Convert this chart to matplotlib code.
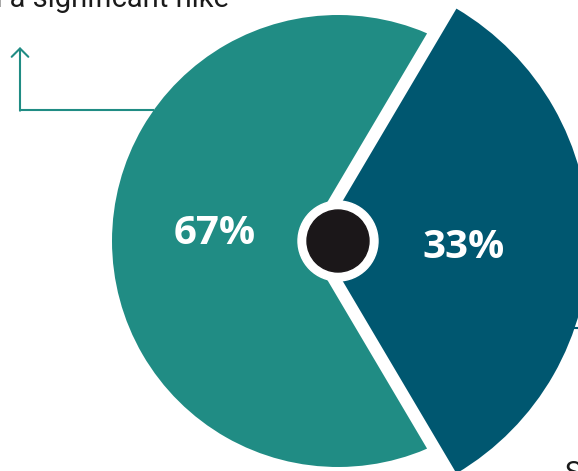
import matplotlib.pyplot as plt
from matplotlib.patches import Circle

# data
shares = [67, 33]
share_labels = [f"{s}%" for s in shares]
colors = ["#208C84", "#005770"]

W, H = 578, 471
cx, cy = 338, 241          # pie centre in pixels (from top-left)
ring_dark = "#1B1719"

plt.rcParams['font.family'] = ['Roboto', 'DejaVu Sans']

fig = plt.figure(figsize=(W / 100, H / 100), dpi=100)
ax = fig.add_axes([0, 0, 1, 1])

start = 360 * shares[1] / 100 / 2   # blue slice centred on the right

# teal slice: thick white edge gives the inset look
teal, _ = ax.pie(shares, colors=colors, startangle=start, radius=255,
                 wedgeprops=dict(edgecolor='white', linewidth=58 * 0.72))
teal[1].set_visible(False)

# blue slice, larger and without edge
blue, _ = ax.pie(shares, colors=colors, startangle=start, radius=270,
                 center=(-19, 0), wedgeprops=dict(linewidth=0))
blue[0].set_visible(False)

ax.set_aspect('equal')
ax.set_xlim(-cx, W - cx)
ax.set_ylim(-(H - cy), cy)
ax.axis('off')

# centre dot
ax.add_patch(Circle((0, 0), 40, color='white', zorder=4))
ax.add_patch(Circle((0, 0), 31, color=ring_dark, zorder=5))

# percentage labels
ax.text(-123.5, -3, share_labels[0], color='white', fontsize=29,
        fontweight='bold', family='Open Sans', ha='center', va='baseline', zorder=6)
ax.text(125.5, -17, share_labels[1], color='white', fontsize=29,
        fontweight='bold', family='Open Sans', ha='center', va='baseline', zorder=6)

# callouts (cropped off the edges of the original)
ax.text(229 - cx, cy - 7, "resulting in a significant hike", fontsize=21,
        color='#1a1a1a', ha='right', va='baseline', zorder=6)
ax.plot([20 - cx, -184], [cy - 110, cy - 110], color=colors[0], lw=1.5, zorder=6,
        solid_capstyle='butt')
ax.annotate("", xy=(20 - cx, cy - 47), xytext=(20 - cx, cy - 110.7),
            arrowprops=dict(arrowstyle='->,head_length=0.3,head_width=0.3',
                            mutation_scale=20, color=colors[0], lw=1.5,
                            shrinkA=0, shrinkB=0), zorder=6)

ax.plot([215, 260], [cy - 328, cy - 328], color=colors[1], lw=1.5, zorder=0.5)
ax.text(227, cy - 482, "Share", fontsize=21, color='#1a1a1a',
        ha='left', va='baseline', zorder=6)

fig.savefig("out.png", dpi=100)
